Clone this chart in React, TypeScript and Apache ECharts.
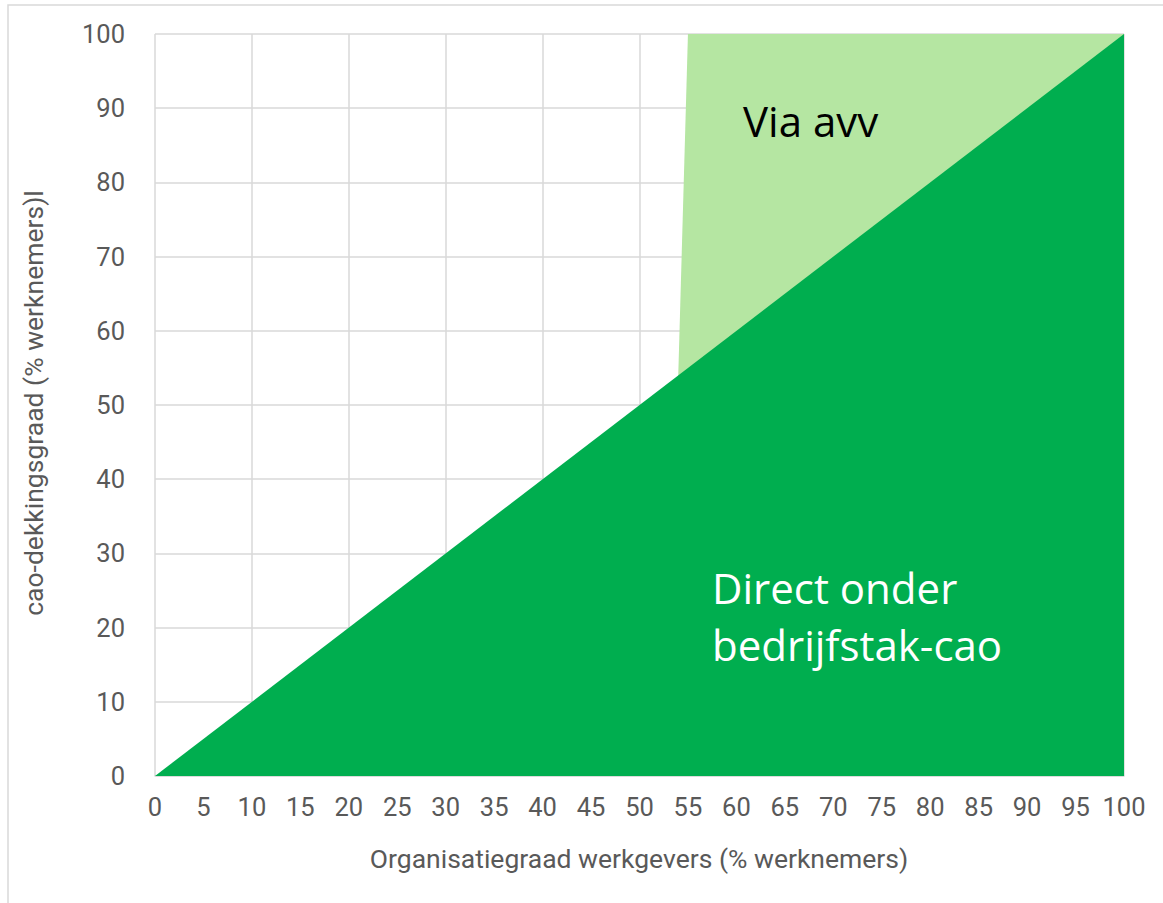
import React, { useEffect, useRef } from "react";
import * as echarts from "echarts";

const directX = [0, 100];
const directY = [0, 100];
const avvX = [54, 55, 100];
const avvY = [54, 100, 100];
const xTickStep = 5;
const xGridStep = 10;
const yTickStep = 10;
const xTitle = "Organisatiegraad werkgevers (% werknemers)";
const yTitle = "cao-dekkingsgraad (% werknemers)l";
const labelAvv = "Via avv";
const labelDirect = "Direct onder\nbedrijfstak-cao";

export default function App() {
  const ref = useRef<HTMLDivElement>(null);
  useEffect(() => {
    const chart = echarts.init(ref.current!, null, { renderer: "svg" });
    const grid = "#d9d9d9";
    const tickColor = "#595959";
    const font = "Roboto";
    chart.setOption({
      animation: false,
      backgroundColor: "#ffffff",
      grid: { left: 155, top: 34, width: 969, height: 742 },
      xAxis: [
        {
          type: "value",
          min: 0,
          max: 100,
          interval: xTickStep,
          axisLine: { show: true, lineStyle: { color: grid, width: 1.5 } },
          axisTick: { show: false },
          splitLine: { show: false },
          axisLabel: { color: tickColor, fontSize: 25.5, fontFamily: font, margin: 18 },
        },
        {
          type: "value",
          min: 0,
          max: 100,
          interval: xGridStep,
          position: "bottom",
          axisLine: { show: false },
          axisTick: { show: false },
          axisLabel: { show: false },
          splitLine: { show: true, lineStyle: { color: grid, width: 1.5 } },
        },
      ],
      yAxis: {
        type: "value",
        min: 0,
        max: 100,
        interval: yTickStep,
        axisLine: { show: false },
        axisTick: { show: false },
        splitLine: { show: true, lineStyle: { color: grid, width: 1.5 } },
        axisLabel: { color: tickColor, fontSize: 25.5, fontFamily: font, margin: 30 },
      },
      series: [
        {
          type: "line",
          xAxisIndex: 0,
          data: avvX.map((x, i) => [x, avvY[i]]),
          symbol: "none",
          lineStyle: { width: 0 },
          areaStyle: { color: "#b5e6a2", opacity: 1, origin: "start" },
          z: 2,
        },
        {
          type: "line",
          xAxisIndex: 0,
          data: directX.map((x, i) => [x, directY[i]]),
          symbol: "none",
          lineStyle: { width: 0 },
          areaStyle: { color: "#00ae4f", opacity: 1, origin: "start" },
          z: 3,
        },
      ],
      graphic: [
        {
          type: "rect",
          shape: { x: 8, y: 5, width: 1170, height: 920 },
          style: { fill: "none", stroke: "#d9d9d9", lineWidth: 1.5 },
          z: 0,
          silent: true,
        },
        {
          type: "text",
          x: 639,
          y: 858,
          style: {
            text: xTitle,
            fill: tickColor,
            font: `26.5px ${font}`,
            align: "center",
            verticalAlign: "middle",
          },
        },
        {
          type: "text",
          x: 33,
          y: 403,
          rotation: Math.PI / 2,
          style: {
            text: yTitle,
            fill: tickColor,
            font: `26.5px ${font}`,
            align: "center",
            verticalAlign: "middle",
          },
        },
        {
          type: "text",
          x: 743,
          y: 120,
          z: 10,
          style: {
            text: labelAvv,
            fill: "#000000",
            font: `42px 'Open Sans'`,
            align: "left",
            verticalAlign: "middle",
          },
        },
        {
          type: "text",
          x: 712,
          y: 616,
          z: 10,
          style: {
            text: labelDirect,
            fill: "#ffffff",
            font: `42px 'Open Sans'`,
            lineHeight: 57,
            align: "left",
            verticalAlign: "middle",
          },
        },
      ],
    });
    return () => chart.dispose();
  }, []);
  return (
    <div
      ref={ref}
      style={{ position: "absolute", left: 0, top: 0, width: 1163, height: 903 }}
    />
  );
}
